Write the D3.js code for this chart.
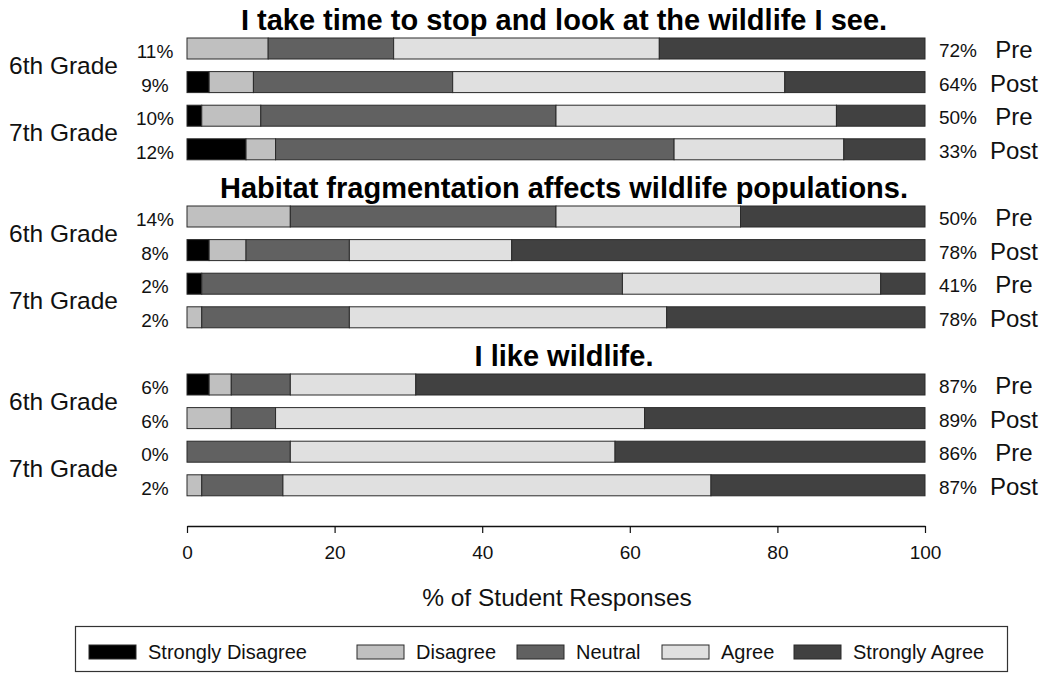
<!DOCTYPE html>
<html><head><meta charset="utf-8">
<script src="https://cdn.jsdelivr.net/npm/d3@7"></script>
<style>body{margin:0;background:#fff;} svg{display:block;font-family:"Liberation Sans",Arial,sans-serif;}</style>
</head><body>
<svg id="c" width="1051" height="675"></svg>
<script>
const questions = ["I take time to stop and look at the wildlife I see.",
  "Habitat fragmentation affects wildlife populations.",
  "I like wildlife."];
const grades = ["6th Grade", "7th Grade"];
const times = ["Pre", "Post"];
const categories = ["Strongly Disagree", "Disagree", "Neutral", "Agree", "Strongly Agree"];
// 12 bars: per question, 6th Pre, 6th Post, 7th Pre, 7th Post
const stronglyDisagree = [0, 3, 2, 8,  0, 3, 2, 0,  3, 0, 0, 0];
const disagree         = [11, 6, 8, 4, 14, 5, 0, 2,  3, 6, 0, 2];
const neutral          = [17, 27, 40, 54, 36, 14, 57, 20, 8, 6, 14, 11];
const agree            = [36, 45, 38, 23, 25, 22, 35, 43, 17, 50, 44, 58];
const stronglyAgree    = [36, 19, 12, 11, 25, 56, 6, 35, 69, 38, 42, 29];
const leftLabels  = ["11%","9%","10%","12%","14%","8%","2%","2%","6%","6%","0%","2%"];
const rightLabels = ["72%","64%","50%","33%","50%","78%","41%","78%","87%","89%","86%","87%"];
const xTicks = [0, 20, 40, 60, 80, 100];
const colors = ["#000000", "#c0c0c0", "#616161", "#e0e0e0", "#414141"];

const series = [stronglyDisagree, disagree, neutral, agree, stronglyAgree];
const rows = stronglyDisagree.map((_, i) => {
  const q = Math.floor(i / 4), k = i % 4;
  const o = {slot: q * 5 + k, q, grade: grades[Math.floor(k / 2)], time: times[k % 2],
    left: leftLabels[i], right: rightLabels[i]};
  categories.forEach((c, j) => o[c] = series[j][i]);
  return o;
});
const stacked = d3.stack().keys(categories)(rows);

const svg = d3.select("#c");
const x = d3.scaleLinear().domain([0, 100]).range([187, 925]);
const y = d3.scaleLinear().domain([0, 13]).range([48.5, 485.3]);
const barH = 21;
const color = d3.scaleOrdinal().domain(categories).range(colors);

// bars
svg.append("g").selectAll("g").data(stacked).join("g")
  .attr("fill", d => color(d.key))
  .selectAll("rect").data(d => d).join("rect")
  .attr("x", d => x(d[0]))
  .attr("y", d => y(d.data.slot) - barH / 2)
  .attr("width", d => Math.max(0, x(d[1]) - x(d[0])))
  .attr("height", barH)
  .attr("stroke", "#2a2a2a").attr("stroke-width", 1)
  .attr("display", d => d[1] - d[0] > 0 ? null : "none");

// titles
svg.append("g").selectAll("text").data(questions).join("text")
  .attr("x", 564).attr("y", (d, i) => y(i * 5 - 1) + 15)
  .attr("text-anchor", "middle").attr("font-weight", "bold").attr("font-size", 29)
  .attr("fill", "#000").text(d => d);

// grade labels
const gradeRows = [];
questions.forEach((q, qi) => grades.forEach((g, gi) => gradeRows.push({g, slot: qi * 5 + gi * 2 + 0.5})));
svg.append("g").selectAll("text").data(gradeRows).join("text")
  .attr("x", 118).attr("y", d => y(d.slot)).attr("dy", "0.35em")
  .attr("text-anchor", "end").attr("font-size", 24.5).attr("fill", "#111").text(d => d.g);

// left percentages
svg.append("g").selectAll("text").data(rows).join("text")
  .attr("x", 155).attr("y", d => y(d.slot) + 3).attr("dy", "0.35em")
  .attr("text-anchor", "middle").attr("font-size", 19).attr("fill", "#111").text(d => d.left);

// right percentages
svg.append("g").selectAll("text").data(rows).join("text")
  .attr("x", 958).attr("y", d => y(d.slot) + 2).attr("dy", "0.35em")
  .attr("text-anchor", "middle").attr("font-size", 19).attr("fill", "#111").text(d => d.right);

// Pre / Post
svg.append("g").selectAll("text").data(rows).join("text")
  .attr("x", 1014).attr("y", d => y(d.slot) + 1).attr("dy", "0.35em")
  .attr("text-anchor", "middle").attr("font-size", 24).attr("fill", "#111").text(d => d.time);

// axis
const ax = svg.append("g").attr("transform", "translate(0,526)")
  .call(d3.axisBottom(x).tickValues(xTicks).tickSize(7).tickSizeOuter(0).tickPadding(13));
ax.select(".domain").attr("stroke", "#111").attr("stroke-width", 1.3);
ax.selectAll(".tick line").attr("stroke", "#111").attr("stroke-width", 1.2);
ax.selectAll(".tick text").attr("font-size", 19).attr("fill", "#111")
  .attr("font-family", "'Liberation Sans',Arial,sans-serif");

svg.append("text").attr("x", 557).attr("y", 606).attr("text-anchor", "middle")
  .attr("font-size", 24.5).attr("fill", "#111").text("% of Student Responses");

// legend
svg.append("rect").attr("x", 75.5).attr("y", 626.5).attr("width", 932).attr("height", 45)
  .attr("fill", "none").attr("stroke", "#333").attr("stroke-width", 1.2);
const legX = [89, 357, 517, 662, 794];
const lg = svg.append("g").selectAll("g").data(categories).join("g")
  .attr("transform", (d, i) => `translate(${legX[i]},645)`);
lg.append("rect").attr("width", 47).attr("height", 14)
  .attr("fill", d => color(d)).attr("stroke", "#2a2a2a").attr("stroke-width", 1);
lg.append("text").attr("x", 59).attr("y", 7).attr("dy", "0.35em")
  .attr("font-size", 20).attr("fill", "#111").text(d => d);
</script>
</body></html>
